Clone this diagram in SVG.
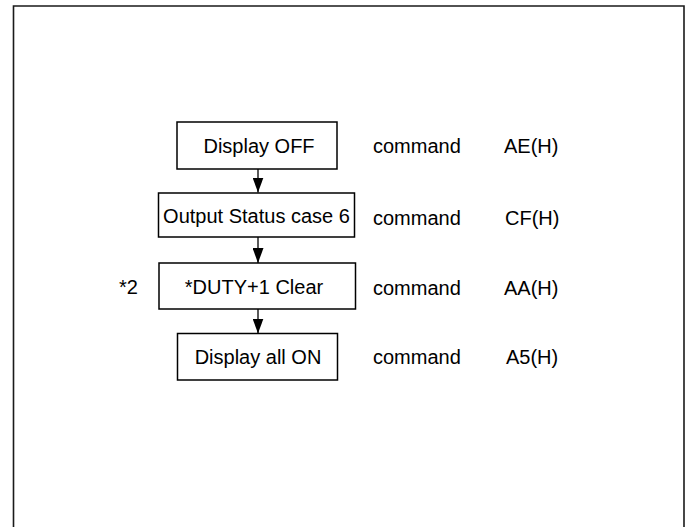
<svg xmlns="http://www.w3.org/2000/svg" width="687" height="527" viewBox="0 0 687 527">
<style>
.box{fill:#fff;stroke:#000;stroke-width:1.5}
.t{font-family:"Liberation Sans",Arial,sans-serif;font-size:20px;fill:#000}
.c{text-anchor:middle}
.conn{stroke:#000;stroke-width:1.3;fill:none}
</style>
<defs>
<marker id="ah" markerWidth="15" markerHeight="11" refX="15" refY="5.5" orient="auto" markerUnits="userSpaceOnUse" viewBox="0 0 15 11">
<path d="M0,0 L15,5.5 L0,11 Z" fill="#000"/>
</marker>
</defs>
<rect width="687" height="527" fill="#fff"/>
<path d="M13.5,530 V6 H684 V530" fill="none" stroke="#1a1a1a" stroke-width="1.6"/>
<g id="connectors">
<line class="conn" x1="258" y1="169" x2="258" y2="192.5" marker-end="url(#ah)"/>
<line class="conn" x1="258" y1="237" x2="258" y2="263" marker-end="url(#ah)"/>
<line class="conn" x1="258" y1="309" x2="258" y2="333.5" marker-end="url(#ah)"/>
</g>
<g id="n1">
<rect class="box" x="177" y="122" width="160" height="47"/>
<text class="t c" x="259" y="152.5">Display OFF</text>
<text class="t" x="373" y="153">command</text>
<text class="t" x="504" y="153">AE(H)</text>
</g>
<g id="n2">
<rect class="box" x="158.5" y="193" width="196" height="44"/>
<text class="t c" x="256.5" y="222.5">Output Status case 6</text>
<text class="t" x="373" y="225">command</text>
<text class="t" x="505" y="225">CF(H)</text>
</g>
<g id="n3">
<rect class="box" x="159" y="263" width="196.5" height="46"/>
<text class="t" x="119" y="294">*2</text>
<text class="t c" x="254" y="293.5">*DUTY+1 Clear</text>
<text class="t" x="373" y="295">command</text>
<text class="t" x="504" y="295">AA(H)</text>
</g>
<g id="n4">
<rect class="box" x="177.5" y="333.5" width="160" height="46.5"/>
<text class="t c" x="258" y="363.5">Display all ON</text>
<text class="t" x="373" y="364">command</text>
<text class="t" x="506" y="364">A5(H)</text>
</g>
</svg>
